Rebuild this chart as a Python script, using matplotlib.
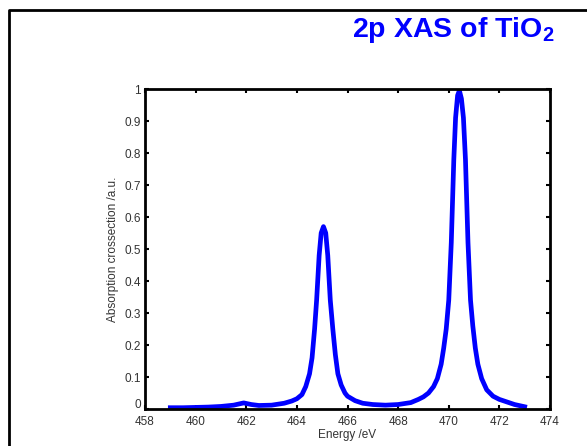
import matplotlib
matplotlib.use("Agg")
import matplotlib.pyplot as plt
import matplotlib.transforms as mtransforms
from matplotlib.lines import Line2D

plt.rcParams['font.family'] = ['Liberation Sans', 'DejaVu Sans']
plt.rcParams['mathtext.fontset'] = 'custom'
plt.rcParams['mathtext.bf'] = 'Liberation Sans:bold'
plt.rcParams['mathtext.rm'] = 'Liberation Sans'

# spectrum (energy in eV, intensity normalised)
energy = [459.0, 459.5, 460.0, 460.5, 461.0, 461.5, 461.9, 462.2, 462.5, 463.0,
          463.5, 463.8, 464.0, 464.2, 464.35, 464.5, 464.6, 464.7, 464.78, 464.88,
          464.96, 465.05, 465.14, 465.22, 465.32, 465.42, 465.52, 465.62, 465.75, 465.9,
          466.0, 466.3, 466.6, 467.0, 467.5, 468.0, 468.5, 468.8, 469.0, 469.2,
          469.4, 469.55, 469.7, 469.8, 469.9, 470.0, 470.1, 470.2, 470.27, 470.35,
          470.42, 470.5, 470.58, 470.66, 470.76, 470.86, 470.95, 471.05, 471.15, 471.3,
          471.5, 471.75, 472.0, 472.3, 472.6, 473.0]
intensity = [0.004, 0.004, 0.005, 0.006, 0.008, 0.012, 0.019, 0.014, 0.011, 0.012,
             0.018, 0.025, 0.032, 0.045, 0.07, 0.11, 0.16, 0.25, 0.34, 0.48,
             0.55, 0.57, 0.55, 0.48, 0.34, 0.25, 0.17, 0.11, 0.075, 0.05,
             0.04, 0.026, 0.018, 0.014, 0.012, 0.014, 0.02, 0.03, 0.038, 0.05,
             0.07, 0.095, 0.14, 0.19, 0.25, 0.34, 0.52, 0.78, 0.91, 0.98,
             0.995, 0.97, 0.91, 0.78, 0.52, 0.34, 0.26, 0.19, 0.14, 0.095,
             0.06, 0.04, 0.03, 0.022, 0.014, 0.007]

xticks = [458, 460, 462, 464, 466, 468, 470, 472, 474]
yticks = [0, 0.1, 0.2, 0.3, 0.4, 0.5, 0.6, 0.7, 0.8, 0.9, 1]
ylabels = ['0', '0.1', '0.2', '0.3', '0.4', '0.5', '0.6', '0.7', '0.8', '0.9', '1']

fig = plt.figure(figsize=(5.87, 4.46), dpi=100)
ax = fig.add_axes([145/587, 37/446, 405/587, 320/446])

ax.plot(energy, intensity, color='#0000ff', linewidth=3.4, solid_joinstyle='round')

ax.set_xlim(458, 474)
ax.set_ylim(0, 1)
ax.set_xticks(xticks)
ax.set_yticks(yticks)
ax.set_yticklabels(ylabels)
ax.tick_params(direction='in', top=True, right=True, length=3, width=1.5,
               labelsize=8.5, labelcolor='#333333')
ax.tick_params(axis='x', pad=5)
ax.tick_params(axis='y', pad=3)
for s in ax.spines.values():
    s.set_linewidth(2)

# the "0" on the y axis sits a little higher, clear of the "458"
lab0 = ax.get_yticklabels()[0]
lab0.set_transform(lab0.get_transform() +
                   mtransforms.ScaledTranslation(0, 4/72, fig.dpi_scale_trans))

ax.set_xlabel('Energy /eV', fontsize=8.5, color='#333333', labelpad=1)
ax.set_ylabel('Absorption crossection /a.u.', fontsize=8.5, color='#333333', labelpad=4)

# slide title
fig.text(555/587, 1 - 37/446, r'2p XAS of TiO$_\mathbf{2}$', ha='right', va='baseline',
         fontsize=20.5, fontweight='bold', color='#0000ff')

# slide frame (left and top edges)
fig.add_artist(Line2D([9/587, 9/587, 1.0], [0.0, 1 - 10/446, 1 - 10/446],
                      transform=fig.transFigure, color='black', linewidth=2))

plt.savefig('out.png', dpi=100)
plt.close()
